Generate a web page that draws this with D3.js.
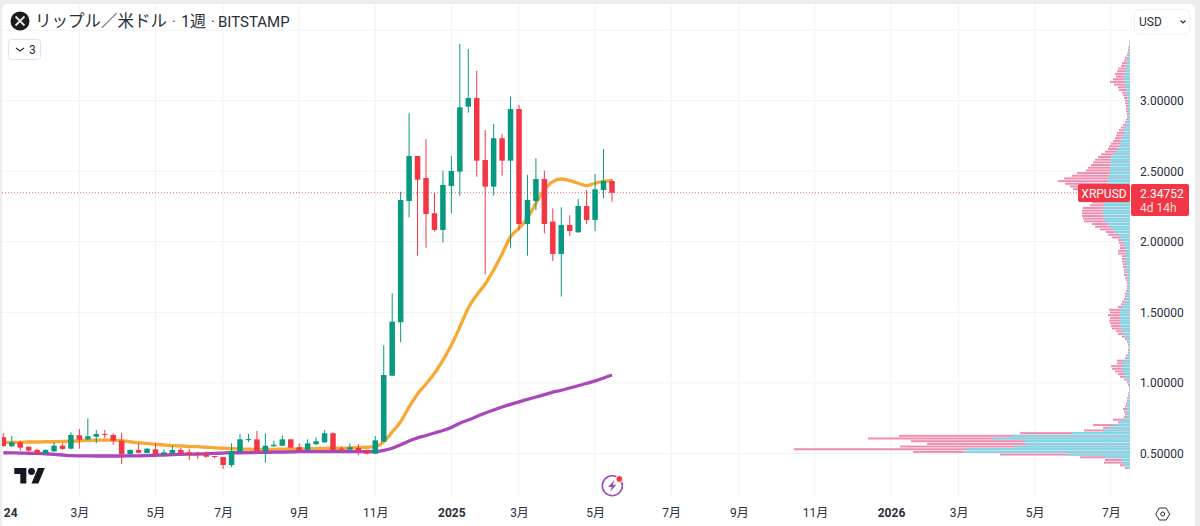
<!DOCTYPE html>
<html>
<head>
<meta charset="utf-8">
<script src="https://cdn.jsdelivr.net/npm/d3@7"></script>
<style>
  html, body { margin: 0; padding: 0; background: #ededed; overflow: hidden; }
  svg { display: block; }
  text { font-family: Roboto, "Noto Sans CJK JP", sans-serif; fill: #2a2e39; }
</style>
</head>
<body>
<svg></svg>
<script>
const titleParts = ['リップル／米ドル ', '· ', '1週 ', '· ', 'BITSTAMP'];
const symbol = 'XRPUSD';
const countdown = '4d 14h';
const currency = 'USD';

const opens = [.615,.551,.579,.548,.525,.498,.515,.555,.534,.629,.600,.619,.638,.631,.590,.496,.525,.503,.529,.494,.503,.525,.508,.501,.494,.482,.475,.418,.510,.595,.600,.517,.551,.555,.600,.544,.525,.565,.579,.643,.534,.527,.539,.517,.498,.583,1.051,1.430,2.289,2.608,2.452,2.202,2.084,2.396,2.497,2.958,3.019,2.580,2.391,2.734,2.575,2.941,2.126,2.289,2.445,2.143,1.914,2.119,2.067,2.254,2.155,2.367,2.431];
const highs = [.643,.624,.590,.548,.534,.529,.579,.572,.650,.673,.749,.666,.666,.643,.647,.529,.572,.537,.572,.529,.555,.541,.532,.513,.513,.482,.475,.572,.638,.638,.659,.643,.590,.629,.600,.572,.600,.614,.666,.650,.548,.572,.567,.529,.624,1.267,1.635,2.355,2.911,2.608,2.727,2.348,2.504,2.608,3.402,3.366,3.211,2.792,2.835,2.762,3.028,2.970,2.474,2.592,2.504,2.237,2.245,2.188,2.303,2.367,2.481,2.658,2.445];
const lows = [.546,.546,.520,.501,.489,.496,.510,.525,.529,.534,.595,.572,.610,.562,.425,.473,.501,.501,.489,.487,.496,.496,.454,.461,.470,.463,.390,.402,.508,.581,.513,.434,.548,.553,.537,.520,.520,.562,.576,.525,.520,.525,.489,.494,.496,.581,1.049,1.288,2.174,1.902,1.958,2.072,1.994,2.202,2.327,2.915,2.461,1.770,2.327,2.469,1.954,2.084,1.902,2.225,2.060,1.864,1.611,2.041,2.065,2.126,2.077,2.308,2.284];
const closes = [.553,.579,.541,.520,.496,.525,.555,.532,.631,.598,.622,.638,.633,.590,.496,.525,.505,.534,.496,.508,.525,.501,.491,.494,.477,.477,.418,.517,.600,.602,.517,.555,.562,.600,.541,.520,.572,.586,.643,.525,.527,.544,.520,.498,.593,1.056,1.434,2.296,2.608,2.440,2.197,2.084,2.403,2.502,2.953,3.019,2.575,2.391,2.734,2.575,2.941,2.126,2.296,2.445,2.126,1.914,2.119,2.077,2.254,2.155,2.372,2.431,2.34752];

const maOrange = [.579,.579,.579,.581,.581,.583,.583,.585,.586,.590,.593,.595,.595,.595,.590,.583,.576,.571,.565,.560,.555,.553,.549,.548,.544,.540,.537,.534,.532,.530,.529,.529,.529,.530,.531,.532,.533,.534,.536,.537,.537,.539,.541,.544,.548,.583,.652,.725,.829,.922,.992,1.068,1.162,1.269,1.396,1.531,1.623,1.701,1.800,1.914,2.036,2.096,2.167,2.273,2.367,2.426,2.445,2.433,2.415,2.398,2.415,2.429,2.433];
const maPurple = [.505,.504,.503,.501,.500,.498,.494,.489,.484,.483,.483,.482,.482,.482,.482,.483,.483,.485,.487,.489,.492,.494,.495,.496,.498,.500,.503,.505,.505,.506,.507,.508,.509,.510,.511,.513,.513,.513,.513,.513,.513,.513,.513,.513,.513,.522,.537,.562,.588,.610,.627,.645,.663,.684,.714,.737,.762,.787,.808,.829,.848,.866,.883,.900,.917,.934,.948,.964,.980,.997,1.014,1.035,1.056];

const currentPrice = 2.34752;

// volume profile, relative volume per price row, top row first
const profileTopPrice = 3.418;
const profileStep = 0.019;
const profileTotal = [.5,1,1.5,2,2.5,3,5,6,8,9,12,13,15,14,17,20,16,12,11,8,7,6,5,5,4,4,4,3,3,4,5,7,9,11,13,14,15,17,19,21,22,25,29,32,35,37,39,42,44,53,58,66,72,65,60,57,50,48,45,40,38,40,47,48,48,48,47,46,38,35,30,24,22,18,12,11,10,10,12,12,8,8,8,7,7,6,6,6,5,4,3,3,3,4,5,5,6,8,9,12,21,20,22,20,21,20,19,18,14,12,8,5,3,2,1.5,2,2,4,5,13,13,19,18,15,12,10,6,3,2,1,1,1.5,2,3,3,4,5,7,6,5,6,17,12,37,27,46,110,231,262,219,203,230,336,217,130,50,25,26,10,5];
const profileUp = [.5,.7,1,1,1.5,1.5,2.5,3,3,4,4,5,5,6,6,6,5,5,4,4,3,3,3,2,2,2,2,1.5,2,2,3,4,5,6,6,7,8,9,10,11,12,14,17,19,19,20,20,20,20,21,21,21,22,22,22,22,22,22,23,24,25,26,27,27,27,27,26,25,22,20,18,16,12,10,8,7,6,5,5,5,4,5,5,4,4,4,3,3,3,2,2,2,2,2,3,3,4,5,6,8,10,10,10,10,10,10,9,9,8,7,5,3,2,1.5,1,1,1,2,3,7,8,8,8,7,6,5,3,2,1,.7,.7,1,1,2,2,2,3,3,4,3,3,8,10,15,23,27,58,118,137,105,105,115,163,167,62,25,8,8,5,3];

const priceTicks = [3.5, 3, 2.5, 2, 1.5, 1, 0.5];
const timeTickBars = [0, 9, 18, 26, 35, 44, 53, 61, 70, 79, 87, 96, 105, 113, 122, 131];
const timeTickLabels = ['24','3月','5月','7月','9月','11月','2025','3月','5月','7月','9月','11月','2026','3月','5月','7月'];
const yearLabels = ['24','2025','2026'];

const width = 1200, height = 526;
const paneRight = 1130, paneBottom = 497;
const green = '#089981', red = '#f23645';

const svg = d3.select('svg').attr('width', width).attr('height', height);

svg.append('rect').attr('width', width).attr('height', height).attr('fill', '#ededed');
svg.append('rect')
  .attr('x', 2).attr('y', 4)
  .attr('width', 1193).attr('height', height)
  .attr('rx', 5)
  .attr('fill', '#fff');

svg.append('clipPath').attr('id', 'panel')
  .append('rect').attr('x', 2).attr('y', 4).attr('width', 1193).attr('height', height);

const root = svg.append('g').attr('clip-path', 'url(#panel)');

const xScale = d3.scaleLinear().domain([0, 72]).range([3.3, 612]);
const yScale = d3.scaleLinear().domain([0.5, 3.5]).range([453.45, 30.15]);
const volScale = d3.scaleLinear().domain([0, 336]).range([0, 336]);

// grid
root.append('g').selectAll('line').data(timeTickBars.slice(1))
  .enter().append('line')
  .attr('x1', d => xScale(d)).attr('x2', d => xScale(d))
  .attr('y1', 4).attr('y2', paneBottom)
  .attr('stroke', '#f2f3f5');

root.append('g').selectAll('line').data(priceTicks)
  .enter().append('line')
  .attr('x1', 2).attr('x2', paneRight)
  .attr('y1', d => yScale(d)).attr('y2', d => yScale(d))
  .attr('stroke', '#f2f3f5');

// volume profile
const rowY = i => yScale(profileTopPrice - i * profileStep);
const profile = root.append('g');
profile.selectAll('rect.down').data(profileTotal)
  .enter().append('rect')
  .attr('class', 'down')
  .attr('x', d => paneRight - volScale(d))
  .attr('y', (d, i) => rowY(i) - 1)
  .attr('width', d => volScale(d))
  .attr('height', 2)
  .attr('fill', '#f08db0');
profile.selectAll('rect.up').data(profileUp)
  .enter().append('rect')
  .attr('class', 'up')
  .attr('x', d => paneRight - volScale(d))
  .attr('y', (d, i) => rowY(i) - 1)
  .attr('width', d => volScale(d))
  .attr('height', 2)
  .attr('fill', '#7adbe8');

// current price line
root.append('line')
  .attr('x1', 2).attr('x2', 1079)
  .attr('y1', yScale(currentPrice)).attr('y2', yScale(currentPrice))
  .attr('stroke', red).attr('stroke-opacity', 0.8)
  .attr('stroke-dasharray', '1 2');

// moving averages
const maLine = d3.line().x((d, i) => xScale(i)).y(d => yScale(d)).curve(d3.curveMonotoneX);
root.append('path').datum(maOrange)
  .attr('d', maLine).attr('fill', 'none')
  .attr('stroke', '#f9a833').attr('stroke-width', 3.3);
root.append('path').datum(maPurple)
  .attr('d', maLine).attr('fill', 'none')
  .attr('stroke', '#ab47bc').attr('stroke-width', 3.3);

// candles
const candle = root.append('g').selectAll('g').data(opens)
  .enter().append('g');
const candleColor = i => closes[i] >= opens[i] ? green : red;

candle.append('line')
  .attr('x1', (d, i) => xScale(i)).attr('x2', (d, i) => xScale(i))
  .attr('y1', (d, i) => yScale(highs[i])).attr('y2', (d, i) => yScale(lows[i]))
  .attr('stroke', (d, i) => candleColor(i));

candle.append('rect')
  .attr('x', (d, i) => xScale(i) - 2.75)
  .attr('y', (d, i) => yScale(Math.max(opens[i], closes[i])))
  .attr('width', 5.5)
  .attr('height', (d, i) => Math.max(1, Math.abs(yScale(opens[i]) - yScale(closes[i]))))
  .attr('fill', (d, i) => candleColor(i));

// axes
const yAxis = root.append('g')
  .attr('transform', `translate(1140, 0)`)
  .call(d3.axisRight(yScale)
    .tickValues(priceTicks.filter(d => d < 3.5))
    .tickFormat(d3.format('.5f'))
    .tickSize(0)
    .tickPadding(0));
yAxis.select('.domain').remove();
yAxis.selectAll('text').style('font-size', '12px').style('font-family', 'Roboto');

const xAxis = root.append('g')
  .attr('transform', `translate(0, 508)`)
  .call(d3.axisBottom(xScale)
    .tickValues(timeTickBars)
    .tickFormat((d, i) => timeTickLabels[i])
    .tickSize(0)
    .tickPadding(0));
xAxis.select('.domain').remove();
xAxis.selectAll('text')
  .style('font-size', '12px')
  .style('font-family', 'Roboto, "Noto Sans CJK JP"')
  .style('font-weight', d => yearLabels.includes(timeTickLabels[timeTickBars.indexOf(d)]) ? 700 : 400)
  .attr('text-anchor', d => d === 0 ? 'start' : 'middle');

// price labels
const labels = root.append('g');
labels.append('rect').attr('x', 1078).attr('y', 184).attr('width', 52).attr('height', 18)
  .attr('rx', 2).attr('fill', red);
labels.append('text').attr('x', 1104).attr('y', 197.5)
  .attr('text-anchor', 'middle').style('font-size', '12px').style('fill', '#fff')
  .text(symbol);
labels.append('rect').attr('x', 1131).attr('y', 184).attr('width', 58).attr('height', 32)
  .attr('rx', 2).attr('fill', red);
labels.append('text').attr('x', 1140).attr('y', 197.5)
  .style('font-size', '12px').style('fill', '#fff')
  .text(d3.format('.5f')(currentPrice));
labels.append('text').attr('x', 1140).attr('y', 212)
  .style('font-size', '12px').style('fill', '#fff').style('fill-opacity', 0.85)
  .text(countdown);

// header
const icon = root.append('g').attr('transform', 'translate(20, 21)');
icon.append('circle').attr('r', 9.5).attr('fill', '#1c1c1f');
icon.append('path').attr('d', 'M-4.5 -4.5 L4.5 4.5 M4.5 -4.5 L-4.5 4.5')
  .attr('stroke', '#e8e8e8').attr('stroke-width', 1.8).attr('fill', 'none');

const titleX = [35, 172, 181, 211, 218];
const titleSize = [16.5, 14, 16, 14, 15];
root.append('text').attr('y', 27)
  .selectAll('tspan').data(titleParts)
  .enter().append('tspan')
  .attr('x', (d, i) => titleX[i])
  .style('font-size', (d, i) => titleSize[i] + 'px')
  .text(d => d);

root.append('rect').attr('x', 8.5).attr('y', 39.5).attr('width', 32).attr('height', 20)
  .attr('rx', 3).attr('fill', '#fff').attr('stroke', '#e0e3eb');
root.append('path').attr('d', 'M16 48 L20 51 L24 48')
  .attr('fill', 'none').attr('stroke', '#2a2e39').attr('stroke-width', 1.2);
root.append('text').attr('x', 29).attr('y', 54).style('font-size', '12px').text('3');

root.append('rect').attr('x', 1134.5).attr('y', 9.5).attr('width', 55).attr('height', 24.5)
  .attr('rx', 4).attr('fill', '#fff').attr('stroke', '#eef0f3');
root.append('text').attr('x', 1139).attr('y', 26).style('font-size', '12px').text(currency);
root.append('path').attr('d', 'M1180.5 20.5 L1183 23 L1185.5 20.5')
  .attr('fill', 'none').attr('stroke', '#2a2e39').attr('stroke-width', 1.2);

// logo
const logo = root.append('g').attr('transform', 'translate(14.3, 464.6) scale(0.86)').attr('fill', '#131722');
logo.append('path').attr('d', 'M14 22H7V11H0V4h14v18zM28 22h-8l7.5-18h8L28 22z');
logo.append('circle').attr('cx', 20).attr('cy', 8).attr('r', 4);

// lightning button
const bolt = root.append('g').attr('transform', 'translate(612.3, 485.7)');
bolt.append('circle').attr('r', 10).attr('fill', '#fff').attr('stroke', '#9c4fb8').attr('stroke-width', 1.6);
bolt.append('path').attr('d', 'M2 -6 L-4 1.2 L-0.6 1.2 L-2 6 L4 -1 L0.6 -1 Z').attr('fill', '#9c4fb8');
bolt.append('circle').attr('cx', 7).attr('cy', -6.7).attr('r', 3.4).attr('fill', red).attr('stroke', '#fff');

// settings hexagon
const gear = root.append('g').attr('transform', 'translate(1162.7, 514)')
  .attr('fill', 'none').attr('stroke', '#2a2e39');
gear.append('path').attr('d', 'M-7 0 L-3.5 -6 L3.5 -6 L7 0 L3.5 6 L-3.5 6 Z');
gear.append('circle').attr('r', 2);
</script>
</body>
</html>
